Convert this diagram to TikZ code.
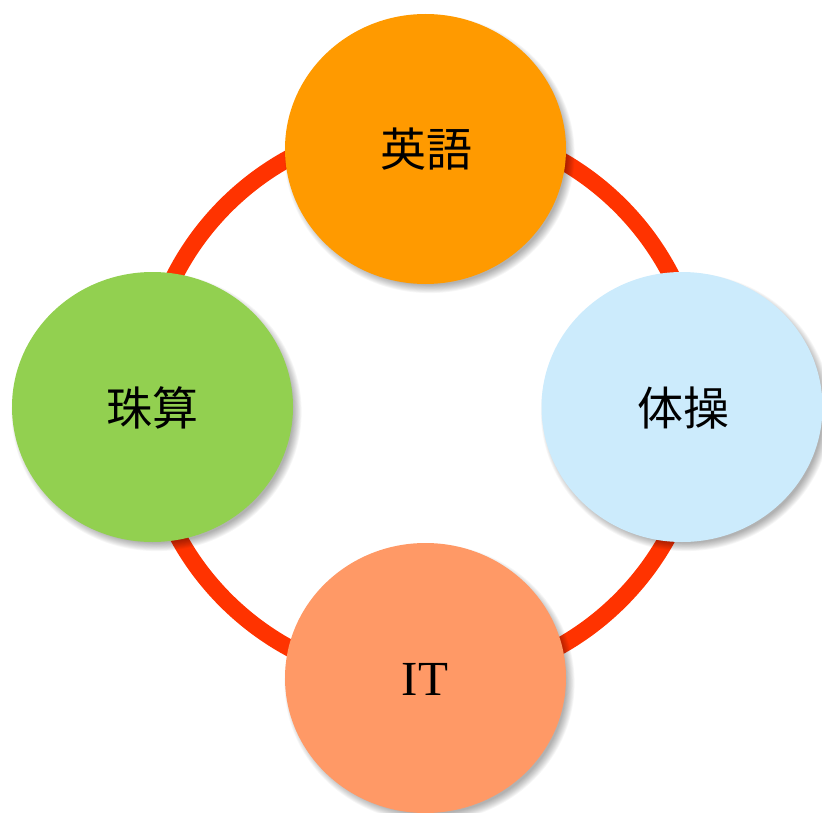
\documentclass[tikz,border=0pt]{standalone}
\usepackage{fontspec}
\setmainfont{Liberation Serif}
\newfontfamily\cjk{Noto Sans CJK JP}
\usetikzlibrary{shapes.geometric}
\definecolor{ringred}{HTML}{FF3300}
\definecolor{cOrange}{HTML}{FF9A00}
\definecolor{cBlue}{HTML}{CCEBFC}
\definecolor{cGreen}{HTML}{92D050}
\definecolor{cSalmon}{HTML}{FF9966}
\tikzset{
  bubble/.style={ellipse, minimum width=281pt, minimum height=270pt, inner sep=0pt},
  jp/.style={font=\cjk\fontsize{46}{50}\selectfont},
  lat/.style={font=\fontsize{49}{52}\selectfont},
}
\newcommand{\softshadow}[2]{%
  \foreach \i in {0,...,9}{%
    \fill[black, opacity=0.035] (#1+4, #2+5) ellipse ({137+\i*0.9} and {131+\i*0.9});
  }%
}
\begin{document}
\begin{tikzpicture}[x=1pt, y=-1pt]
\useasboundingbox (0,0) rectangle (822,813);
\coordinate (ringc) at (423,403);
\draw[ringred, line width=17pt] (ringc) circle (279);
\softshadow{425.5}{149}
\softshadow{682}{407}
\softshadow{152.5}{407}
\softshadow{425.5}{678}
\node[bubble, fill=cOrange] (eng) at (425.5,149) {};
\node[bubble, fill=cBlue] (tai) at (682,407) {};
\node[bubble, fill=cGreen] (shu) at (152.5,407) {};
\node[bubble, fill=cSalmon] (it) at (425.5,678) {};
\node[jp] (engt) at (426,149) {英語};
\node[jp] (tait) at (683,408) {体操};
\node[jp] (shut) at (152,408) {珠算};
\node[lat] (itt) at (425,679) {IT};
\end{tikzpicture}
\end{document}
